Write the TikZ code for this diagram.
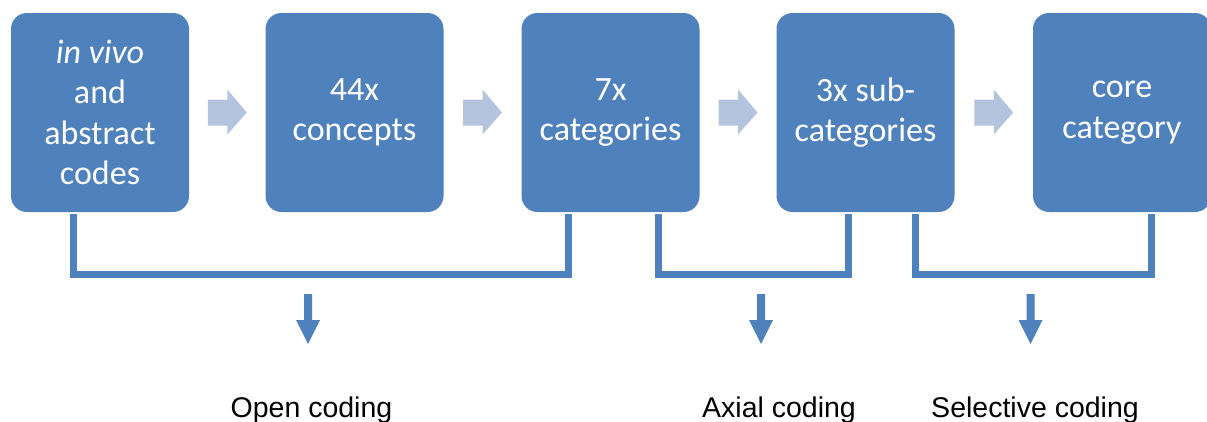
\documentclass[tikz,border=0pt]{standalone}
\usepackage{fontspec}
\usetikzlibrary{calc}
\setmainfont{Carlito}
\newfontfamily\labelfont{Liberation Sans}
\definecolor{boxblue}{HTML}{4F81BD}
\definecolor{chevblue}{HTML}{B4C3DE}
\begin{document}
\begin{tikzpicture}[x=1pt,y=-1pt,
  stepbox/.style={fill=boxblue, rounded corners=16pt, minimum width=178pt, minimum height=199pt,
    inner sep=0pt, text=white, align=center, font=\fontsize{34}{40.5}\selectfont},
  bracket/.style={draw=boxblue, line width=7pt, line join=miter},
  phase/.style={font=\labelfont\fontsize{28.5}{34}\selectfont, anchor=base, inner sep=0pt}]
\useasboundingbox (0,0) rectangle (1207,421);
\clip (0,0) rectangle (1207,421);
% boxes
\node[stepbox] (b1) at (100,112.5) {\textit{in vivo}\\and\\abstract\\codes};
\node[stepbox] (b2) at (354.5,112.5) {44x\\concepts};
\node[stepbox] (b3) at (610.5,112.5) {7x\\categories};
\node[stepbox] (b4) at (865.5,112.5) {3x sub-\\categories};
\node[stepbox] (b5) at (1122,112.5) {core\\category};
% chevron arrows between boxes
\foreach \a/\b in {b1/b2,b2/b3,b3/b4,b4/b5}{
  \path ($(\a.east)!0.5!(\b.west)$) coordinate (m);
  \fill[chevblue] ([shift={(-19.5,-13)}]m) -- ([shift={(0,-13)}]m) -- ([shift={(0,-23)}]m)
     -- ([shift={(19.5,0)}]m) -- ([shift={(0,22)}]m) -- ([shift={(0,13)}]m)
     -- ([shift={(-19.5,13)}]m) -- cycle;
}
% brackets
\coordinate (o1) at (73,214);  \coordinate (o2) at (568,214);
\coordinate (a1) at (658.5,214); \coordinate (a2) at (848.5,214);
\coordinate (s1) at (915,214); \coordinate (s2) at (1151.5,214);
\draw[bracket] (o1) -- ++(0,60) -| (o2);
\draw[bracket] (a1) -- ++(0,60) -| (a2);
\draw[bracket] (s1) -- ++(0,60) -| (s2);
% labels
\node[phase] (l1) at (311.5,417) {Open coding};
\node[phase] (l2) at (779,417) {Axial coding};
\node[phase] (l3) at (1035,417) {Selective coding};
% down arrows
\foreach \x in {308,761,1030.5}{
  \fill[boxblue] (\x-4,294) -- (\x+4,294) -- (\x+4,320) -- (\x+12,320) -- (\x,344)
     -- (\x-12,320) -- (\x-4,320) -- cycle;
}
\end{tikzpicture}
\end{document}
